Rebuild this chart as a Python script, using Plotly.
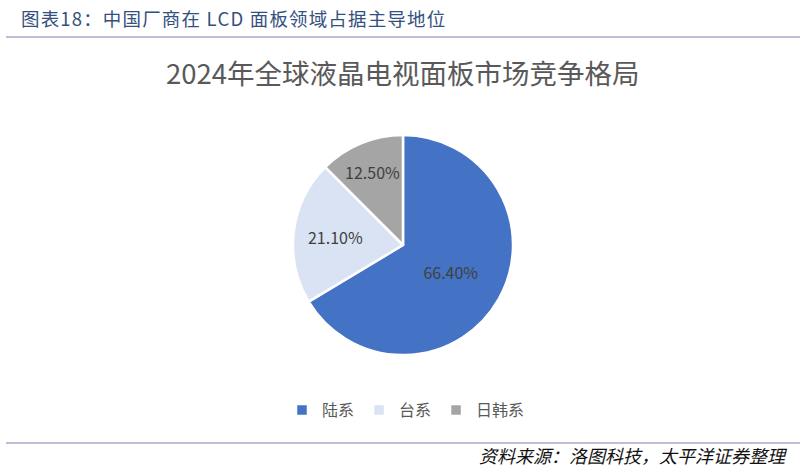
import plotly.graph_objects as go

# 2024年全球液晶电视面板市场竞争格局
labels = ["陆系", "台系", "日韩系"]
shares = [66.4, 21.1, 12.5]
colors = ["#4472C4", "#DAE3F3", "#A5A5A5"]

W, H = 805, 470
font = "Noto Sans CJK SC"


def px(x):
    return x / W


def py(y):
    return 1 - y / H


fig = go.Figure(go.Pie(
    labels=labels,
    values=shares,
    sort=False,
    direction="clockwise",
    rotation=0,
    marker=dict(colors=colors, line=dict(color="white", width=2.5)),
    texttemplate="%{value:.2f}%",
    textposition="inside",
    insidetextorientation="horizontal",
    textfont=dict(family=font, size=16, color="#404040"),
    hoverinfo="label+percent",
    domain=dict(x=[px(293), px(513)], y=[py(355), py(135)]),
))

fig.update_layout(
    width=W, height=H,
    margin=dict(l=0, r=0, t=0, b=0),
    paper_bgcolor="white",
    showlegend=True,
    legend=dict(orientation="h", x=px(406), xanchor="center", y=py(410), yanchor="middle",
                font=dict(family=font, size=16, color="#595959"), itemwidth=30,
                traceorder="normal"),
    font=dict(family=font),
)

# 页眉、标题、来源
header = "\u200a".join("图表18：中国厂商在 LCD 面板领域占据主导地位")
fig.add_annotation(text=header, x=px(19), y=py(18),
                   xref="paper", yref="paper", xanchor="left", yanchor="middle", showarrow=False,
                   font=dict(family=font, size=18.5, color="#34507E"))
fig.add_annotation(text="2024年全球液晶电视面板市场竞争格局", x=px(403), y=py(72),
                   xref="paper", yref="paper", xanchor="center", yanchor="middle", showarrow=False,
                   font=dict(family=font, size=27.5, color="#595959"))
fig.add_annotation(text="<i>资料来源：洛图科技，太平洋证券整理</i>", x=px(790), y=py(455),
                   xref="paper", yref="paper", xanchor="right", yanchor="middle", showarrow=False,
                   font=dict(family=font, size=18, color="#111111"))

fig.add_shape(type="line", xref="paper", yref="paper", x0=px(6), x1=px(800),
              y0=py(37), y1=py(37), line=dict(color="#A9ABCB", width=1.5))
fig.add_shape(type="line", xref="paper", yref="paper", x0=px(6), x1=px(800),
              y0=py(443), y1=py(443), line=dict(color="#A9ABCB", width=1.5))

# drop the page's default body margin so the figure fills the window
fig.write_html("out.html", config={"displayModeBar": False},
               post_script="document.body.style.margin = '0';")
